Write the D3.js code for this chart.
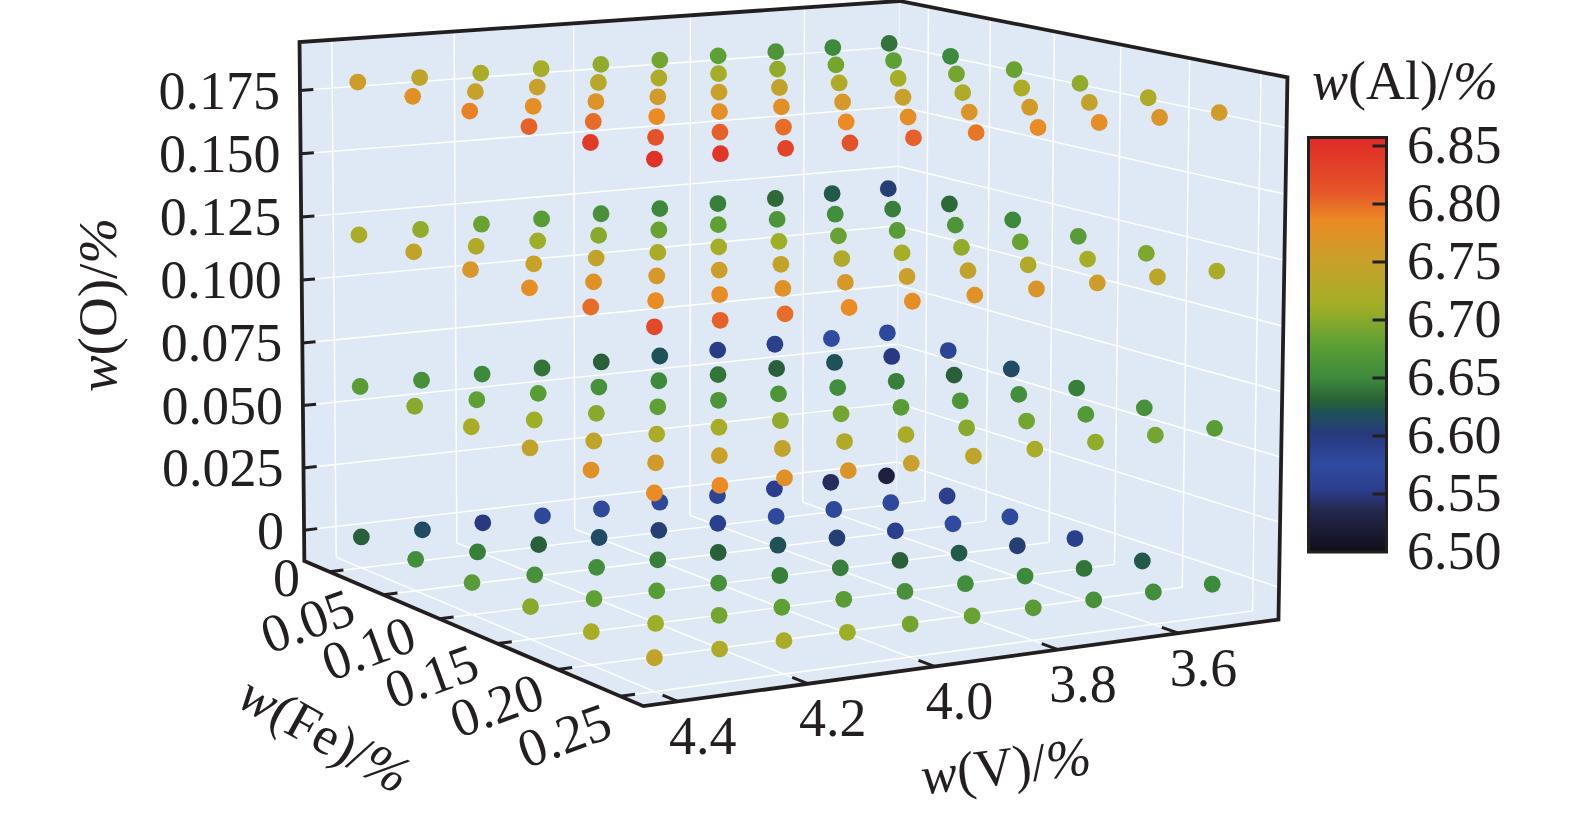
<!DOCTYPE html>
<html>
<head>
<meta charset="utf-8">
<script src="https://cdn.jsdelivr.net/npm/d3@7"></script>
<style>
    body { margin: 0; background: #fff; }
    text { font-family: "Liberation Serif", serif; fill: #231f20; }
</style>
</head>
<body>
<div id="chart"></div>
<script>
const vLevels = [4.4, 4.3, 4.2, 4.1, 4.0, 3.9, 3.8, 3.7, 3.6, 3.5];
const feLevels = [0, 0.05, 0.10, 0.15, 0.20, 0.25];
const oLevels = [0, 0.06, 0.12, 0.18];

const vTicks = [4.4, 4.2, 4.0, 3.8, 3.6];
const feTicks = [0, 0.05, 0.10, 0.15, 0.20, 0.25];
const oTicks = [0, 0.025, 0.05, 0.075, 0.10, 0.125, 0.15, 0.175];
const oTickLabels = ["0", "0.025", "0.050", "0.075", "0.100", "0.125", "0.150", "0.175"];
const alTicks = [6.50, 6.55, 6.60, 6.65, 6.70, 6.75, 6.80, 6.85];

// w(Al) per O level, rows = Fe, columns = V
const alAtO000 = [
    [6.630, 6.615, 6.600, 6.580, 6.570, 6.570, 6.585, 6.555, 6.540, 6.525],
    [6.655, 6.645, 6.630, 6.615, 6.605, 6.590, 6.570, 6.570, 6.570, 6.590],
    [6.675, 6.660, 6.655, 6.645, 6.630, 6.620, 6.605, 6.590, 6.575, 6.570],
    [6.700, 6.680, 6.675, 6.660, 6.645, 6.645, 6.630, 6.625, 6.605, 6.590],
    [6.720, 6.710, 6.690, 6.680, 6.675, 6.660, 6.655, 6.650, 6.640, 6.625],
    [6.745, 6.725, 6.720, 6.710, 6.690, 6.685, 6.675, 6.660, 6.655, 6.650]
];
const alAtO006 = [
    [6.675, 6.660, 6.650, 6.640, 6.630, 6.620, 6.595, 6.590, 6.575, 6.570],
    [6.700, 6.680, 6.675, 6.660, 6.650, 6.640, 6.630, 6.620, 6.600, 6.585],
    [6.720, 6.710, 6.700, 6.680, 6.665, 6.665, 6.655, 6.645, 6.630, 6.615],
    [6.745, 6.740, 6.720, 6.715, 6.705, 6.690, 6.675, 6.665, 6.655, 6.645],
    [6.775, 6.760, 6.750, 6.745, 6.725, 6.720, 6.700, 6.690, 6.670, 6.660],
    [6.785, 6.785, 6.775, 6.770, 6.750, 6.740, 6.720, 6.705, 6.690, 6.675]
];
const alAtO012 = [
    [6.720, 6.705, 6.685, 6.675, 6.660, 6.650, 6.645, 6.635, 6.625, 6.605],
    [6.745, 6.725, 6.710, 6.700, 6.685, 6.680, 6.665, 6.655, 6.645, 6.635],
    [6.765, 6.750, 6.745, 6.720, 6.715, 6.710, 6.685, 6.675, 6.665, 6.650],
    [6.780, 6.775, 6.765, 6.755, 6.745, 6.725, 6.715, 6.705, 6.685, 6.675],
    [6.800, 6.785, 6.780, 6.775, 6.765, 6.750, 6.745, 6.725, 6.715, 6.695],
    [6.825, 6.805, 6.800, 6.785, 6.780, 6.775, 6.770, 6.755, 6.740, 6.720]
];
const alAtO018 = [
    [6.755, 6.740, 6.720, 6.715, 6.705, 6.690, 6.680, 6.665, 6.650, 6.640],
    [6.775, 6.750, 6.750, 6.735, 6.725, 6.715, 6.705, 6.690, 6.680, 6.650],
    [6.790, 6.780, 6.770, 6.760, 6.750, 6.745, 6.725, 6.715, 6.690, 6.685],
    [6.805, 6.800, 6.785, 6.780, 6.775, 6.765, 6.750, 6.725, 6.720, 6.705],
    [6.840, 6.815, 6.805, 6.800, 6.785, 6.780, 6.770, 6.760, 6.745, 6.725],
    [6.850, 6.845, 6.830, 6.815, 6.805, 6.795, 6.785, 6.780, 6.770, 6.760]
];
const alLayers = [alAtO000, alAtO006, alAtO012, alAtO018];

const colourStops = [6.50, 6.536, 6.553, 6.575, 6.60, 6.62, 6.631, 6.65, 6.68, 6.713, 6.752, 6.786, 6.81, 6.857];
const colourValues = ["#0e0e18", "#25284f", "#2b3d8c", "#2f4ba0", "#28397f", "#1e5158", "#2a6236",
    "#3d8a3d", "#5fa035", "#a3af26", "#c9a02a", "#eb8a24", "#e5562b", "#e02a26"];

const ink = "#231f20";
const colour = d3.scaleLinear().domain(colourStops).range(colourValues);

// data -> unit cube
const x3 = d3.scaleLinear().domain([4.452, 3.43]).range([0, 1]);
const y3 = d3.scaleLinear().domain([-0.024, 0.268]).range([0, 1]);
const z3 = d3.scaleLinear().domain([-0.0124, 0.194]).range([0, 1]);

// where known spots of the box sit on the page, the projection is fitted to them
const cubeCorners = [
    {c: [0, 0, 0], p: [306, 563]},
    {c: [1, 0, 0], p: [894, 493]},
    {c: [0, 1, 0], p: [637, 709]},
    {c: [1, 1, 0], p: [1278, 621]},
    {c: [0, 0, 1], p: [298, 44]},
    {c: [1, 0, 1], p: [900, 1]},
    {c: [1, 1, 1], p: [1284, 79]},
    {c: [x3(3.5), y3(0.25), z3(0)], p: [1214, 582]},
    {c: [x3(3.5), y3(0.25), z3(0.18)], p: [1222, 112]},
    {c: [x3(4.4), y3(0.25), z3(0)], p: [658, 655]},
    {c: [x3(4.4), y3(0.25), z3(0.18)], p: [657, 159]},
    {c: [x3(3.5), y3(0), z3(0.18)], p: [889, 42]},
    {c: [x3(3.5), y3(0), z3(0)], p: [888, 475]},
    {c: [x3(4.4), y3(0), z3(0)], p: [362, 534]},
    {c: [x3(4.4), y3(0), z3(0.18)], p: [357, 81]}
];

function solve(A, b) {
    const n = b.length;
    const m = A.map((row, i) => [...row, b[i]]);
    for (let i = 0; i < n; i++) {
        let pivot = i;
        for (let r = i + 1; r < n; r++) {
            if (Math.abs(m[r][i]) > Math.abs(m[pivot][i])) pivot = r;
        }
        [m[i], m[pivot]] = [m[pivot], m[i]];
        for (let r = 0; r < n; r++) {
            if (r == i) continue;
            const f = m[r][i] / m[i][i];
            for (let k = i; k <= n; k++) m[r][k] -= f * m[i][k];
        }
    }
    return m.map((row, i) => row[n] / row[i]);
}

function fitProjection(corners) {
    const rows = [], rhs = [];
    corners.forEach(({c, p}) => {
        const [u, v, w] = c;
        const sx = p[0] / 1000, sy = p[1] / 1000;
        rows.push([u, v, w, 1, 0, 0, 0, 0, -sx * u, -sx * v, -sx * w]);
        rhs.push(sx);
        rows.push([0, 0, 0, 0, u, v, w, 1, -sy * u, -sy * v, -sy * w]);
        rhs.push(sy);
    });
    const AtA = d3.range(11).map(i => d3.range(11).map(j => d3.sum(rows, r => r[i] * r[j])));
    const Atb = d3.range(11).map(i => d3.sum(rows, (r, k) => r[i] * rhs[k]));
    return solve(AtA, Atb);
}

const P = fitProjection(cubeCorners);

function project(u, v, w) {
    const d = P[8] * u + P[9] * v + P[10] * w + 1;
    return [
        1000 * (P[0] * u + P[1] * v + P[2] * w + P[3]) / d,
        1000 * (P[4] * u + P[5] * v + P[6] * w + P[7]) / d
    ];
}

const svg = d3.select("#chart").append("svg")
    .attr("width", 1575)
    .attr("height", 814)
    .style("display", "block");

const line = d3.line();
const corner = (u, v, w) => project(u, v, w);

function addSegment(group, a, b, stroke, width) {
    group.append("path")
        .attr("d", line([corner(...a), corner(...b)]))
        .attr("fill", "none")
        .attr("stroke", stroke)
        .attr("stroke-width", width);
}

// walls
const walls = svg.append("g");
[
    [[0, 0, 0], [1, 0, 0], [1, 0, 1], [0, 0, 1]],
    [[1, 0, 0], [1, 1, 0], [1, 1, 1], [1, 0, 1]],
    [[0, 0, 0], [1, 0, 0], [1, 1, 0], [0, 1, 0]]
].forEach(face => {
    walls.append("path")
        .attr("d", line(face.map(c => corner(...c))) + "Z")
        .attr("fill", "#dfe9f5")
        .attr("stroke", "#dfe9f5")
        .attr("stroke-width", 1);
});

// grid
const grid = svg.append("g");
vTicks.forEach(t => {
    addSegment(grid, [x3(t), 0, 0], [x3(t), 0, 1], "#fff", 1.4);
    addSegment(grid, [x3(t), 0, 0], [x3(t), 1, 0], "#fff", 1.4);
});
feTicks.forEach(t => {
    addSegment(grid, [1, y3(t), 0], [1, y3(t), 1], "#fff", 1.4);
    addSegment(grid, [0, y3(t), 0], [1, y3(t), 0], "#fff", 1.4);
});
oTicks.forEach(t => {
    addSegment(grid, [0, 0, z3(t)], [1, 0, z3(t)], "#fff", 1.4);
    addSegment(grid, [1, 0, z3(t)], [1, 1, z3(t)], "#fff", 1.4);
});
addSegment(grid, [1, 0, 0], [1, 0, 1], "#eef3fa", 1.2);

// points, lowest layer first so the upper ones cover it
const points = [];
oLevels.forEach((o, k) => {
    feLevels.forEach((fe, i) => {
        vLevels.forEach((v, j) => {
            points.push({v, fe, o, al: alLayers[k][i][j]});
        });
    });
});

svg.append("g").selectAll("circle")
    .data(points)
    .join("circle")
    .attr("cx", d => project(x3(d.v), y3(d.fe), z3(d.o))[0])
    .attr("cy", d => project(x3(d.v), y3(d.fe), z3(d.o))[1])
    .attr("r", 8.4)
    .attr("fill", d => colour(d.al));

// box outline
const frame = svg.append("g");
frame.append("path")
    .attr("d", line([[0, 0, 0], [0, 0, 1], [1, 0, 1], [1, 1, 1], [1, 1, 0], [0, 1, 0]].map(c => corner(...c))) + "Z")
    .attr("fill", "none")
    .attr("stroke", ink)
    .attr("stroke-width", 3.8)
    .attr("stroke-linejoin", "miter");

// axis ticks and labels
const axisFont = 54;
const axes = svg.append("g");

oTicks.forEach((t, i) => {
    addSegment(axes, [0, 0, z3(t)], [0.021, 0, z3(t)], ink, 3);
    const [px, py] = project(0, 0, z3(t));
    axes.append("text")
        .attr("x", px - 20)
        .attr("y", py)
        .attr("dy", "0.34em")
        .attr("text-anchor", "end")
        .attr("font-size", axisFont)
        .text(oTickLabels[i]);
});

const feLabelDx = d3.scaleLinear().domain([0.05, 0.25]).range([-76, -56]);
const feLabelDy = d3.scaleLinear().domain([0.05, 0.25]).range([26, 39]);

feTicks.forEach(t => {
    addSegment(axes, [0, y3(t), 0], [0.022, y3(t), 0], ink, 3);
    const [px, py] = project(0, y3(t), 0);
    const dx = t == 0 ? -43 : feLabelDx(t);
    const dy = t == 0 ? 6 : feLabelDy(t);
    axes.append("text")
        .attr("transform", `translate(${px + dx},${py + dy}) rotate(${t == 0 ? 0 : -20})`)
        .attr("dy", "0.34em")
        .attr("text-anchor", "middle")
        .attr("font-size", axisFont)
        .text(t == 0 ? "0" : t.toFixed(2));
});

vTicks.forEach(t => {
    addSegment(axes, [x3(t), 1, 0], [x3(t), 0.96, 0], ink, 3);
    const [px, py] = project(x3(t), 1, 0);
    axes.append("text")
        .attr("x", px + 25)
        .attr("y", py + 34)
        .attr("dy", "0.34em")
        .attr("text-anchor", "middle")
        .attr("font-size", axisFont)
        .text(t.toFixed(1));
});

function axisTitle(x, y, angle, size, name) {
    const t = svg.append("text")
        .attr("transform", `translate(${x},${y}) rotate(${angle})`)
        .attr("text-anchor", "middle")
        .attr("font-size", size);
    t.append("tspan").attr("font-style", "italic").text("w");
    t.append("tspan").text(`(${name})/`);
    t.append("tspan").attr("font-style", "italic").text("%");
}

axisTitle(116, 305, -90, 55, "O");
axisTitle(316, 750, 29, 54, "Fe");
axisTitle(1008, 784, -7, 54, "V");
axisTitle(1405, 99, 0, 54, "Al");

// colour bar
const barY = d3.scaleLinear().domain([6.50, 6.85]).range([552, 146]);
const barLeft = 1308.5, barRight = 1386.5;
const barTop = 137.5, barBottom = 552;

const gradient = svg.append("defs").append("linearGradient")
    .attr("id", "al-gradient")
    .attr("x1", 0).attr("x2", 0).attr("y1", 1).attr("y2", 0);
const gradientPos = d3.scaleLinear().domain([6.50, barY.invert(barTop)]).range([0, 1]);
colourStops.forEach((s, i) => {
    gradient.append("stop")
        .attr("offset", Math.min(gradientPos(s), 1))
        .attr("stop-color", colourValues[i]);
});

svg.append("rect")
    .attr("x", barLeft)
    .attr("y", barTop)
    .attr("width", barRight - barLeft)
    .attr("height", barBottom - barTop)
    .attr("fill", "url(#al-gradient)")
    .attr("stroke", ink)
    .attr("stroke-width", 3);

alTicks.forEach(t => {
    if (t > 6.5) {
        svg.append("line")
            .attr("x1", barRight - 14)
            .attr("x2", barRight)
            .attr("y1", barY(t))
            .attr("y2", barY(t))
            .attr("stroke", ink)
            .attr("stroke-width", 3);
    }
    svg.append("text")
        .attr("x", 1407)
        .attr("y", barY(t) - 1)
        .attr("dy", "0.34em")
        .attr("font-size", axisFont)
        .text(t.toFixed(2));
});
</script>
</body>
</html>
